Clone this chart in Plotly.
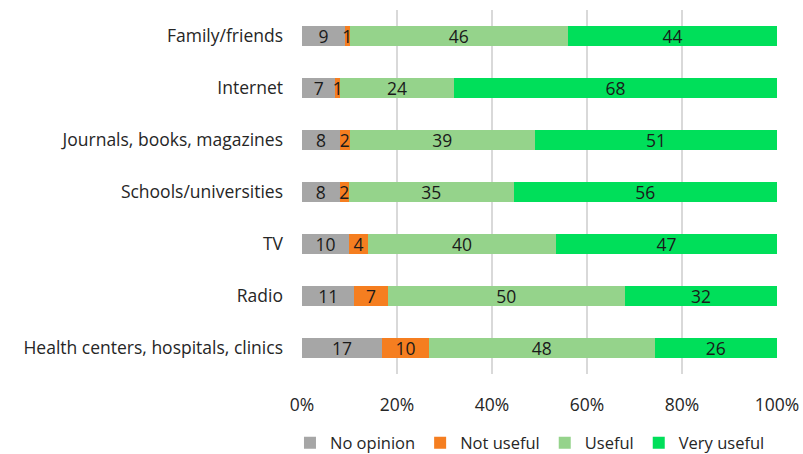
import plotly.graph_objects as go

categories = ["Family/friends", "Internet", "Journals, books, magazines",
              "Schools/universities", "TV", "Radio", "Health centers, hospitals, clinics"]
no_opinion = [9, 7, 8, 8, 10, 11, 17]
not_useful = [1, 1, 2, 2, 4, 7, 10]
useful = [46, 24, 39, 35, 40, 50, 48]
very_useful = [44, 68, 51, 56, 47, 32, 26]
series_names = ["No opinion", "Not useful", "Useful", "Very useful"]
colors = ["#A6A6A6", "#F57E20", "#95D38B", "#00DF5A"]
tick_vals = [0, 20, 40, 60, 80, 100]
tick_text = ["0%", "20%", "40%", "60%", "80%", "100%"]

FONT = "Open Sans, sans-serif"
FS = 17.5

fig = go.Figure()
for name, vals, col in zip(series_names, [no_opinion, not_useful, useful, very_useful], colors):
    fig.add_trace(go.Bar(
        y=categories, x=vals, name=name, orientation="h",
        marker=dict(color=col, line=dict(width=0)),
        text=vals, texttemplate="%{text}", textposition="inside",
        insidetextanchor="middle", textangle=0,
        textfont=dict(color="#1a1a1a", size=FS, family=FONT),
    ))

fig.update_layout(
    barmode="stack", barnorm="percent", bargap=0.6,
    width=803, height=454,
    margin=dict(l=302, r=26, t=10, b=80, autoexpand=False),
    plot_bgcolor="white", paper_bgcolor="white",
    font=dict(family=FONT, size=FS, color="#262626"),
    uniformtext=dict(minsize=FS, mode="show"),
    legend=dict(orientation="h", x=0.66, xanchor="center", xref="container",
                y=0.024, yanchor="middle", yref="container",
                font=dict(size=16.5, color="#262626"),
                traceorder="normal", itemwidth=30, tracegroupgap=0),
    showlegend=True,
)
fig.update_xaxes(range=[0, 100], tickvals=tick_vals, ticktext=tick_text,
                 showgrid=True, gridcolor="#D9D9D9", gridwidth=1.5,
                 zeroline=False, showline=False, ticks="", ticklen=0,
                 automargin=False, ticklabelstandoff=18,
                 tickfont=dict(size=FS, color="#262626"), fixedrange=True)
fig.update_yaxes(categoryorder="array", categoryarray=categories[::-1],
                 autorange=False, range=[-0.5, 6.5], automargin=False,
                 showgrid=False, ticks="", ticklabelstandoff=18,
                 tickfont=dict(size=FS, color="#262626"))

fig.write_html("out.html", config={"displayModeBar": False},
               post_script="document.body.style.margin='0';")
